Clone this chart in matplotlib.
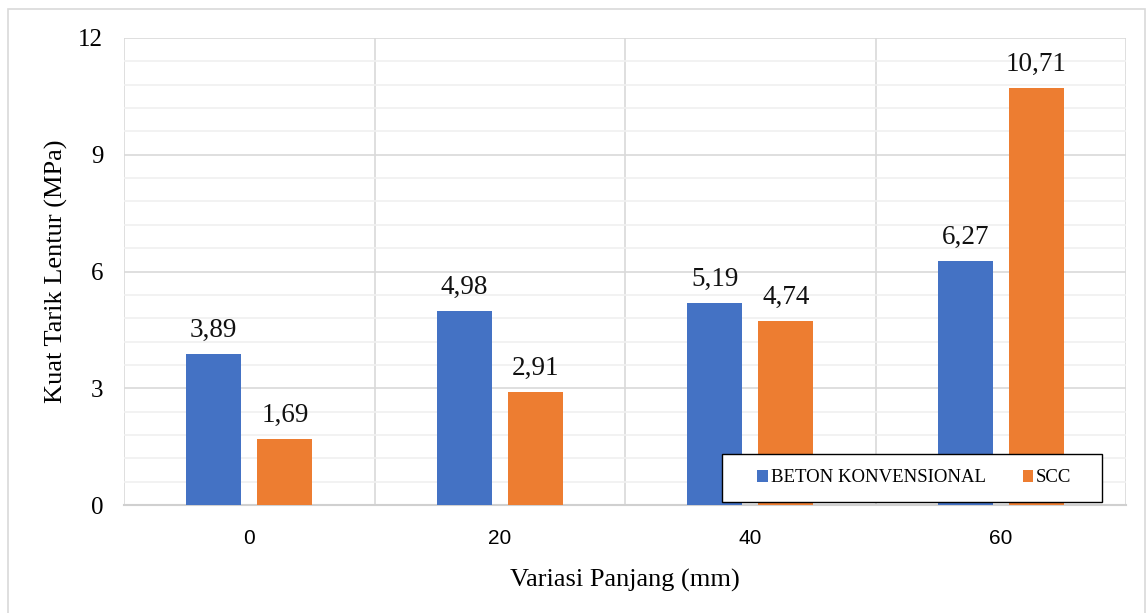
import matplotlib
matplotlib.use("Agg")
import matplotlib.pyplot as plt
from matplotlib.patches import Rectangle
from matplotlib.ticker import MultipleLocator, FixedLocator
import numpy as np

categories = ["0", "20", "40", "60"]
beton = [3.89, 4.98, 5.19, 6.27]
scc = [1.69, 2.91, 4.74, 10.71]
series_names = ["BETON KONVENSIONAL", "SCC"]

BLUE = "#4472C4"
ORANGE = "#ED7D31"
SERIF = "Liberation Serif"
SANS = "Liberation Sans"
W, H = 1147, 613

fig = plt.figure(figsize=(W / 100, H / 100), dpi=100)
fig.patches.append(Rectangle((8 / W, -0.01), 1137 / W, 1 - 9 / H + 0.01,
                             transform=fig.transFigure, fill=False,
                             edgecolor="#D9D9D9", lw=1.2))
ax = fig.add_axes([124 / W, 1 - 505 / H, 1002 / W, 467 / H])

x = np.arange(len(categories))
w = 0.22
off = 0.142
b1 = ax.bar(x - off, beton, w, color=BLUE, label=series_names[0], zorder=3)
b2 = ax.bar(x + off, scc, w, color=ORANGE, label=series_names[1], zorder=3)

for bars, vals in ((b1, beton), (b2, scc)):
    for r, v in zip(bars, vals):
        ax.annotate(f"{v:.2f}".replace(".", ","), (r.get_x() + r.get_width() / 2, v),
                    xytext=(0, 8), textcoords="offset points", ha="center", va="bottom",
                    fontsize=19.5, family=SERIF, color="#111111", zorder=4)

ax.set_xlim(-0.5, 3.5)
ax.set_ylim(0, 12)
ax.yaxis.set_major_locator(MultipleLocator(3))
ax.yaxis.set_minor_locator(MultipleLocator(0.6))
ax.xaxis.set_major_locator(FixedLocator(x))
ax.xaxis.set_minor_locator(FixedLocator(np.arange(-0.5, 4, 1)))
ax.set_xticklabels(categories, family=SANS, fontsize=15)
for t in ax.get_yticklabels():
    t.set_family(SERIF)
    t.set_fontsize(18)
ax.tick_params(axis="both", which="both", length=0)
ax.tick_params(axis="y", pad=15)
ax.tick_params(axis="x", pad=17)

ax.grid(which="major", axis="y", color="#D9D9D9", lw=1.2, zorder=0)
ax.grid(which="minor", axis="y", color="#F0F0F0", lw=1.2, zorder=0)
ax.grid(which="minor", axis="x", color="#D9D9D9", lw=1.2, zorder=0)
for s in ("top", "right", "left"):
    ax.spines[s].set_visible(False)
ax.spines["bottom"].set_color("#D0D0D0")
ax.spines["bottom"].set_linewidth(1.5)

ax.set_xlabel("Variasi Panjang (mm)", family=SERIF, fontsize=19, labelpad=15)
ax.set_ylabel("Kuat Tarik Lentur (MPa)", family=SERIF, fontsize=19, labelpad=7)

# legend box drawn as its own patch so its size matches the original
box = Rectangle((722 / W, 1 - 502 / H), 380 / W, 48 / H, transform=fig.transFigure,
                facecolor="white", edgecolor="black", lw=1.0, zorder=5)
fig.patches.append(box)
leg = fig.legend(handles=[b1, b2], labels=series_names, loc="center",
                 bbox_to_anchor=(914.5 / W, 1 - 478 / H), ncol=2,
                 prop={"family": SERIF, "size": 13.5}, frameon=False,
                 handlelength=0.55, handleheight=0.55, handletextpad=0.15,
                 columnspacing=2.0, borderpad=0.0)
leg.set_zorder(6)

fig.savefig("out.png", dpi=100)
